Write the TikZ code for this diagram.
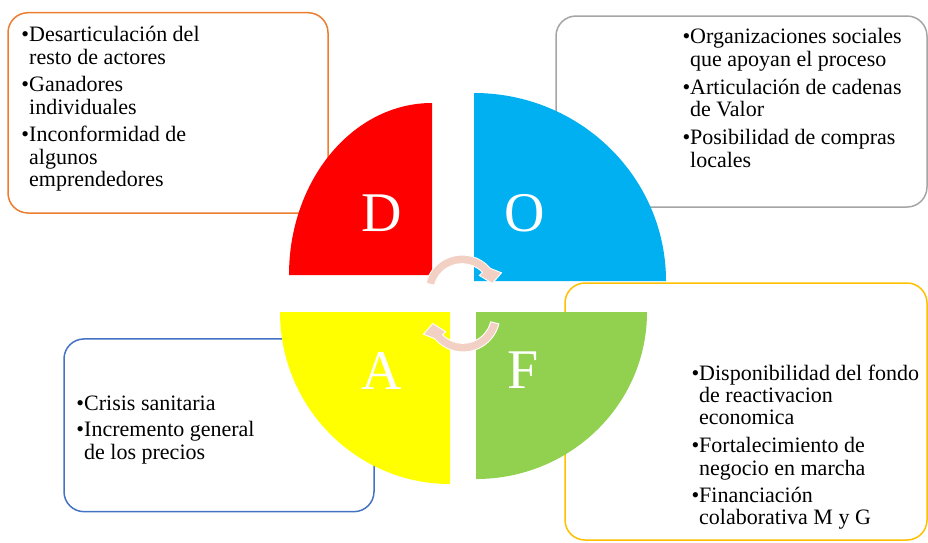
\documentclass[tikz,border=0pt]{standalone}
\usepackage{fontspec}
\setmainfont{Liberation Serif}
\definecolor{qred}{RGB}{255,0,0}
\definecolor{qblue}{RGB}{0,176,240}
\definecolor{qyellow}{RGB}{255,255,0}
\definecolor{qgreen}{RGB}{146,208,80}
\definecolor{bxorange}{RGB}{237,125,49}
\definecolor{bxgray}{RGB}{165,165,165}
\definecolor{bxgold}{RGB}{255,192,0}
\definecolor{bxblue}{RGB}{68,114,196}
\definecolor{arrpink}{RGB}{242,208,196}
\newcommand\myblt{\llap{•}}
\tikzset{
  infobox/.style={draw, fill=white, line width=1.5pt, rounded corners=20pt, inner sep=0pt},
  itemtext/.style={anchor=base west, inner sep=0pt, font=\fontsize{22pt}{22.5pt}\selectfont},
  bigletter/.style={anchor=base, inner sep=0pt, text=white, font=\fontsize{56pt}{60pt}\selectfont},
  cyclearrow/.style={fill=arrpink, draw=white, line width=0.9pt, line join=miter}
}
\begin{document}
\begin{tikzpicture}[x=1pt,y=1pt]
\useasboundingbox (0,0) rectangle (928,-542);

% boxes
\node[infobox, draw=bxorange, minimum width=320pt, minimum height=200.3pt] (boxD) at (168,-112.85) {};
\node[infobox, draw=bxgray, minimum width=371pt, minimum height=191pt] (boxO) at (741.5,-111.5) {};
\node[infobox, draw=bxgold, minimum width=362pt, minimum height=257pt] (boxF) at (746,-411.5) {};
\node[infobox, draw=bxblue, minimum width=310pt, minimum height=172.7pt] (boxA) at (219,-425.3) {};

% quadrants
\fill[qred] (432,-275) -- (289,-275) arc[start angle=180, end angle=90, x radius=143pt, y radius=172pt] -- cycle;
\fill[qblue] (474,-281) -- (474,-93) arc[start angle=90, end angle=0, x radius=192pt, y radius=188pt] -- cycle;
\fill[qyellow] (450,-312) -- (450,-484) arc[start angle=270, end angle=180, x radius=170pt, y radius=172pt] -- cycle;
\fill[qgreen] (476,-312) -- (647,-312) arc[start angle=0, end angle=-90, x radius=171pt, y radius=167pt] -- cycle;

% letters
\node[bigletter] (lD) at (382,-231.7) {D};
\node[bigletter] (lO) at (525,-231.7) {O};
\node[bigletter] (lA) at (381.7,-389.5) {A};
\node[bigletter] (lF) at (523,-388.8) {F};

% cycle arrows
\begin{scope}[shift={(462,-292.1)}]
\filldraw[cyclearrow] (166:37) arc[start angle=166, end angle=40, radius=37]
  -- (26:44) -- (16:31.5) -- (44:24) -- (44:28.5)
  arc[start angle=44, end angle=166, radius=28.5] -- cycle;
\end{scope}
\begin{scope}[shift={(463,-314.9)}, rotate=180]
\filldraw[cyclearrow] (166:37) arc[start angle=166, end angle=40, radius=37]
  -- (26:44) -- (16:31.5) -- (44:24) -- (44:28.5)
  arc[start angle=44, end angle=166, radius=28.5] -- cycle;
\end{scope}

% texts D
\node[itemtext] (d1) at (29,-41.7) {\myblt Desarticulación del};
\node[itemtext] (d2) at (29,-64.2) {resto de actores};
\node[itemtext] (d3) at (29,-91.7) {\myblt Ganadores};
\node[itemtext] (d4) at (29,-114.2) {individuales};
\node[itemtext] (d5) at (29,-141.7) {\myblt Inconformidad de};
\node[itemtext] (d6) at (29,-164.2) {algunos};
\node[itemtext] (d7) at (29,-186.7) {emprendedores};

% texts O
\node[itemtext] (o1) at (690,-43.5) {\myblt Organizaciones sociales};
\node[itemtext] (o2) at (690,-66) {que apoyan el proceso};
\node[itemtext] (o3) at (690,-94) {\myblt Articulación de cadenas};
\node[itemtext] (o4) at (690,-116.5) {de Valor};
\node[itemtext] (o5) at (690,-144.5) {\myblt Posibilidad de compras};
\node[itemtext] (o6) at (690,-167) {locales};

% texts F
\node[itemtext] (f1) at (699,-380) {\myblt Disponibilidad del fondo};
\node[itemtext] (f2) at (699,-402.3) {de reactivacion};
\node[itemtext] (f3) at (699,-424.8) {economica};
\node[itemtext] (f4) at (699,-452.8) {\myblt Fortalecimiento de};
\node[itemtext] (f5) at (699,-475.1) {negocio en marcha};
\node[itemtext] (f6) at (699,-502.4) {\myblt Financiación};
\node[itemtext] (f7) at (699,-524) {colaborativa M y G};

% texts A
\node[itemtext] (a1) at (84,-410) {\myblt Crisis sanitaria};
\node[itemtext] (a2) at (84,-436.7) {\myblt Incremento general};
\node[itemtext] (a3) at (84,-459.3) {de los precios};
\end{tikzpicture}
\end{document}
